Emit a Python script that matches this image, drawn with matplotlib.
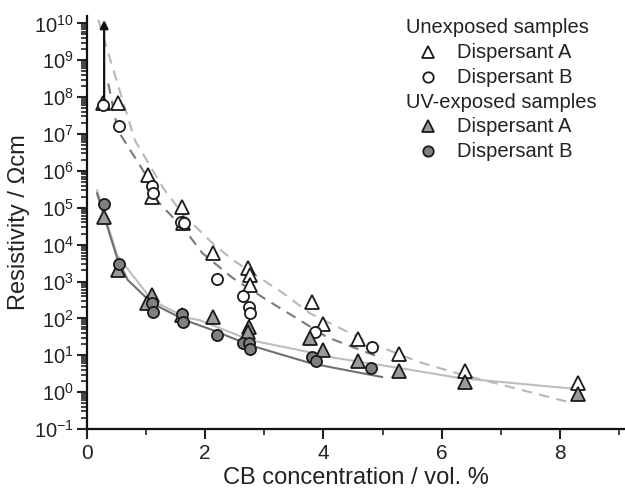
import numpy as np
import matplotlib
matplotlib.use('Agg')
import matplotlib.pyplot as plt
from matplotlib.ticker import LogLocator, MultipleLocator, NullFormatter

plt.rcParams['font.family'] = ['Liberation Sans', 'DejaVu Sans']
plt.rcParams['mathtext.default'] = 'regular'
plt.rcParams['text.color'] = '#222222'
plt.rcParams['axes.labelcolor'] = '#222222'
plt.rcParams['xtick.color'] = '#222222'
plt.rcParams['ytick.color'] = '#222222'

# unexposed samples, dispersant A (open triangles)
unexp_a_x = [0.27, 0.52, 1.03, 1.10, 1.61, 1.62, 2.13, 2.72, 2.76, 2.76, 3.80, 4.00, 4.59, 5.28, 6.40, 8.31]
unexp_a_y = [6.9e7, 6.9e7, 7.8e5, 1.9e5, 1.05e5, 3.9e4, 6.0e3, 2.3e3, 1.5e3, 8.0e2, 2.8e2, 70, 28, 11, 3.8, 1.8]
# unexposed samples, dispersant B (open circles)
unexp_b_x = [0.27, 0.54, 1.10, 1.12, 1.59, 1.64, 2.20, 2.64, 2.74, 2.76, 3.86, 4.82]
unexp_b_y = [6.1e7, 1.7e7, 3.9e5, 2.5e5, 4.1e4, 3.9e4, 1.2e3, 4.0e2, 2.0e2, 1.4e2, 44, 17]
# UV-exposed samples, dispersant A (grey triangles)
uv_a_x = [0.29, 0.52, 1.10, 1.02, 1.61, 2.13, 2.74, 2.72, 3.77, 4.00, 4.59, 5.28, 6.40, 8.31]
uv_a_y = [5.6e4, 2.1e3, 4.3e2, 2.6e2, 1.25e2, 1.1e2, 59, 42, 29, 14, 7.1, 3.8, 1.9, 0.9]
# UV-exposed samples, dispersant B (grey circles)
uv_b_x = [0.29, 0.54, 1.10, 1.12, 1.61, 1.62, 2.20, 2.64, 2.74, 2.76, 3.81, 3.87, 4.81]
uv_b_y = [1.3e5, 3.0e3, 2.6e2, 1.5e2, 1.3e2, 81, 35, 22, 22, 15, 9.1, 7.1, 4.6]

# fit curves (x, log10 resistivity)
fit_unexp_a_x = [0.19, 0.51, 0.81, 1.29, 1.61, 2.12, 2.47, 3.32, 3.77, 4.79, 5.63, 6.26, 7.20, 8.22]
fit_unexp_a_ly = [10.1, 8.40, 6.83, 5.53, 4.85, 4.04, 3.58, 2.68, 2.14, 1.33, 0.81, 0.51, 0.12, -0.30]
fit_unexp_b_x = [0.36, 0.52, 0.98, 1.18, 1.66, 1.95, 2.47, 3.05, 3.60, 4.06, 4.99]
fit_unexp_b_ly = [8.37, 7.10, 5.93, 5.20, 4.39, 3.77, 3.09, 2.49, 1.95, 1.49, 0.92]
fit_uv_a_x = [0.17, 0.51, 1.10, 1.66, 1.91, 2.76, 3.77, 4.11, 5.30, 6.31, 8.31]
fit_uv_a_ly = [5.47, 3.71, 2.49, 2.03, 1.95, 1.41, 1.08, 0.95, 0.65, 0.38, 0.08]
fit_uv_b_x = [0.17, 0.51, 0.69, 1.10, 1.66, 2.13, 2.76, 3.77, 4.11, 4.99]
fit_uv_b_ly = [5.39, 3.63, 3.04, 2.41, 1.95, 1.68, 1.27, 0.79, 0.68, 0.41]

fig = plt.figure(figsize=(6.25, 4.94), dpi=100)
ax = fig.add_axes([87 / 625, 1 - 429 / 494, 538 / 625, 413 / 494])

lw = 1.5
dash = (5, 3.5)
ax.plot(fit_unexp_a_x, 10 ** np.array(fit_unexp_a_ly), color='#b8b8b8', lw=lw, ls=(0, dash))
ax.plot(fit_unexp_b_x, 10 ** np.array(fit_unexp_b_ly), color='#7a7a7a', lw=lw, ls=(0, dash))
ax.plot(fit_uv_a_x, 10 ** np.array(fit_uv_a_ly), color='#bdbdbd', lw=lw)
ax.plot(fit_uv_b_x, 10 ** np.array(fit_uv_b_ly), color='#707070', lw=lw)

ax.annotate('', xy=(0.29, 10 ** 10.09), xytext=(0.29, 10 ** 7.92),
            arrowprops=dict(arrowstyle='-|>', color='#111111', lw=1.6,
                            mutation_scale=12, shrinkA=0, shrinkB=0),
            annotation_clip=False)

mk = dict(ls='none', mec='#1a1a1a', mew=1.3, clip_on=False)
ax.plot(unexp_a_x, unexp_a_y, marker='^', ms=10.5, mfc='white', **mk)
ax.plot(unexp_b_x, unexp_b_y, marker='o', ms=8, mfc='white', **mk)
ax.plot(uv_a_x, uv_a_y, marker='^', ms=10.5, mfc='#9a9a9a', **mk)
ax.plot(uv_b_x, uv_b_y, marker='o', ms=8, mfc='#808080', **mk)

ax.set_yscale('log')
ax.set_xlim(0, 9.1)
ax.set_ylim(1e-1, 10 ** 10.2)
ax.yaxis.set_major_locator(LogLocator(base=10, numticks=30))
ax.yaxis.set_minor_locator(LogLocator(base=10, subs=np.arange(2, 10), numticks=30))
ax.yaxis.set_minor_formatter(NullFormatter())
ax.set_yticks([10.0 ** k for k in range(-1, 11)])
ax.xaxis.set_major_locator(MultipleLocator(2))
ax.xaxis.set_minor_locator(MultipleLocator(1))

for s in ['top', 'right']:
    ax.spines[s].set_visible(False)
for s in ['left', 'bottom']:
    ax.spines[s].set_linewidth(1.6)
    ax.spines[s].set_color('#111111')

ax.tick_params(axis='both', which='major', direction='out', length=7, width=1.5, labelsize=14.5, pad=2.5)
ax.tick_params(axis='x', which='major', labelsize=15, pad=3.5)
ax.tick_params(axis='both', which='minor', direction='out', length=4.5, width=1.2)

ax.set_xlabel('CB concentration / vol. %', fontsize=17, labelpad=3)
ax.set_ylabel('Resistivity / Ωcm', fontsize=17, labelpad=3)

# legend block
fs = 14.5
tx = (457 - 87) / 538
mx = (428 - 87) / 538
hx = (406 - 87) / 538
def ay(py):
    return (429 - py) / 413
ax.text(hx, ay(27), 'Unexposed samples', transform=ax.transAxes, fontsize=fs, va='center')
ax.text(tx, ay(52), 'Dispersant A', transform=ax.transAxes, fontsize=fs, va='center')
ax.text(tx, ay(77), 'Dispersant B', transform=ax.transAxes, fontsize=fs, va='center')
ax.text(hx, ay(102), 'UV-exposed samples', transform=ax.transAxes, fontsize=fs, va='center')
ax.text(tx, ay(126), 'Dispersant A', transform=ax.transAxes, fontsize=fs, va='center')
ax.text(tx, ay(151), 'Dispersant B', transform=ax.transAxes, fontsize=fs, va='center')
ax.plot([mx], [ay(52)], marker='^', ms=9, mfc='white', transform=ax.transAxes, **mk)
ax.plot([mx], [ay(77)], marker='o', ms=7.5, mfc='white', transform=ax.transAxes, **mk)
ax.plot([mx], [ay(126)], marker='^', ms=9, mfc='#9a9a9a', transform=ax.transAxes, **mk)
ax.plot([mx], [ay(151)], marker='o', ms=7.5, mfc='#808080', transform=ax.transAxes, **mk)

fig.savefig('out.png', dpi=100)
